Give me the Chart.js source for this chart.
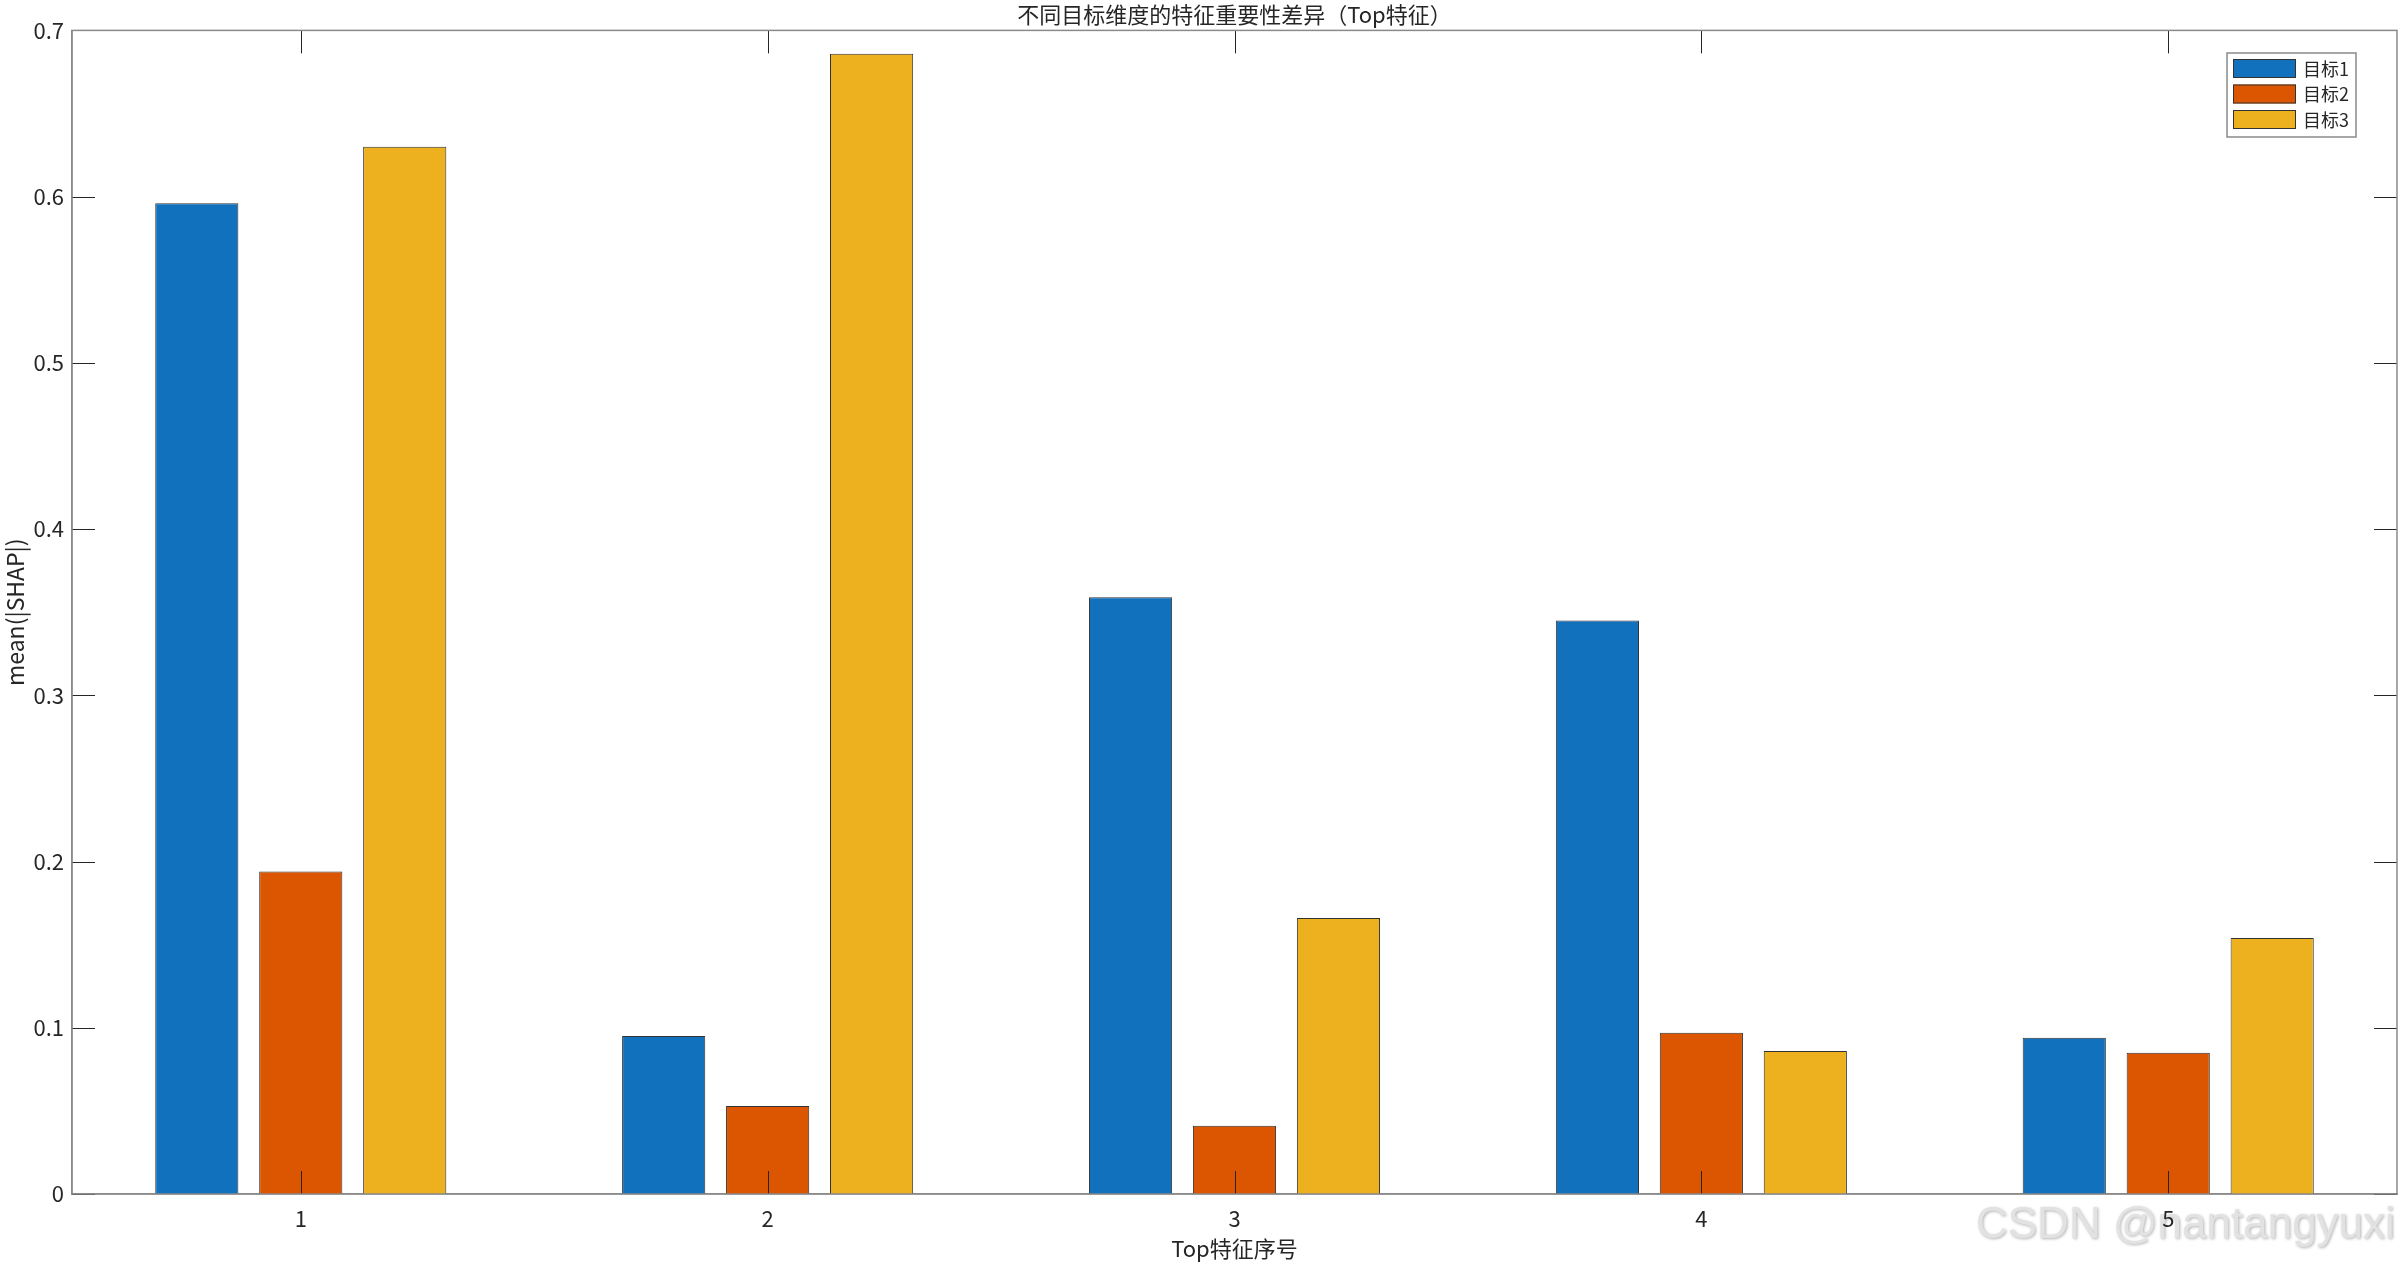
<!DOCTYPE html>
<html>
<head>
<meta charset="utf-8">
<script src="https://cdn.jsdelivr.net/npm/chart.js@4.4.1/dist/chart.umd.min.js"></script>
<style>
  html, body { margin: 0; padding: 0; background: #fff; }
  #wrap { width: 2400px; height: 1264px; }
</style>
</head>
<body>
<div id="wrap"><canvas id="shapChart" width="2400" height="1264"></canvas></div>
<script>
// data
const categories = ['1', '2', '3', '4', '5'];
const target1 = [0.596, 0.095, 0.359, 0.345, 0.094];
const target2 = [0.194, 0.053, 0.041, 0.097, 0.085];
const target3 = [0.630, 0.686, 0.166, 0.086, 0.154];
const seriesNames = ['目标1', '目标2', '目标3'];
const yTicks = [0, 0.1, 0.2, 0.3, 0.4, 0.5, 0.6, 0.7];

const FONT = '"Noto Sans CJK SC", "Noto Sans", sans-serif';
const TEXT = '#262626';
const AXIS = '#8a8a8a';

// bars sit on a numeric x axis (1..5) like MATLAB's bar()
const toPoints = vals => vals.map((v, i) => ({ x: i + 1, y: v }));

// white canvas + watermark underneath everything
const backdrop = {
  id: 'backdrop',
  beforeDraw(chart) {
    const ctx = chart.ctx;
    ctx.save();
    ctx.fillStyle = '#fff';
    ctx.fillRect(0, 0, chart.width, chart.height);
    ctx.font = '44px "Liberation Sans", Arial, sans-serif';
    ctx.textBaseline = 'alphabetic';
    ctx.shadowColor = 'rgba(0,0,0,0.3)';
    ctx.shadowBlur = 3;
    ctx.shadowOffsetX = 1;
    ctx.shadowOffsetY = 1;
    ctx.fillStyle = '#e2e2e2';
    ctx.fillText('CSDN @nantangyuxi', 1976, 1238);
    ctx.restore();
  }
};

// MATLAB style box with inward ticks on all four sides
const matlabBox = {
  id: 'matlabBox',
  afterDatasetsDraw(chart) {
    const { ctx, chartArea: a, scales } = chart;
    const len = 23;
    ctx.save();
    ctx.strokeStyle = TEXT;
    ctx.lineWidth = 1;
    ctx.beginPath();
    yTicks.forEach(v => {
      const y = Math.round(scales.y.getPixelForValue(v)) + 0.5;
      ctx.moveTo(a.left, y); ctx.lineTo(a.left + len, y);
      ctx.moveTo(a.right, y); ctx.lineTo(a.right - len, y);
    });
    categories.forEach((c, i) => {
      const x = Math.round(scales.x.getPixelForValue(i + 1)) + 0.5;
      ctx.moveTo(x, a.bottom); ctx.lineTo(x, a.bottom - len);
      ctx.moveTo(x, a.top); ctx.lineTo(x, a.top + len);
    });
    ctx.stroke();
    ctx.strokeStyle = AXIS;
    ctx.lineWidth = 1.5;
    ctx.strokeRect(a.left, a.top, a.right - a.left, a.bottom - a.top);
    ctx.restore();
  }
};

// legend box in the upper right corner of the axes
const boxLegend = {
  id: 'boxLegend',
  afterDraw(chart) {
    const ctx = chart.ctx;
    const x = 2227, y = 53, w = 129, h = 84;
    ctx.save();
    ctx.fillStyle = '#fff';
    ctx.fillRect(x, y, w, h);
    ctx.strokeStyle = AXIS;
    ctx.lineWidth = 1.5;
    ctx.strokeRect(x, y, w, h);
    ctx.font = '18px ' + FONT;
    ctx.textBaseline = 'middle';
    chart.data.datasets.forEach((ds, i) => {
      const top = 59 + i * 25.5;
      ctx.fillStyle = ds.backgroundColor;
      ctx.fillRect(2233, top, 63, 19);
      ctx.strokeStyle = '#333';
      ctx.lineWidth = 1;
      ctx.strokeRect(2233.5, top + 0.5, 62, 18);
      ctx.fillStyle = TEXT;
      ctx.fillText(ds.label, 2303, top + 10);
    });
    ctx.restore();
  }
};

new Chart(document.getElementById('shapChart'), {
  type: 'bar',
  data: {
    datasets: [
      { label: seriesNames[0], data: toPoints(target1), backgroundColor: '#1171BD' },
      { label: seriesNames[1], data: toPoints(target2), backgroundColor: '#DC5501' },
      { label: seriesNames[2], data: toPoints(target3), backgroundColor: '#EDB120' }
    ].map(d => Object.assign(d, {
      borderColor: '#333',
      borderWidth: 1,
      categoryPercentage: 0.668,
      barPercentage: 0.8
    }))
  },
  options: {
    responsive: false,
    animation: false,
    layout: { padding: { left: 0, right: 3, top: 0, bottom: 0 } },
    plugins: {
      legend: { display: false },
      tooltip: { enabled: false },
      title: {
        display: true,
        fullSize: false,
        text: '不同目标维度的特征重要性差异（Top特征）',
        color: TEXT,
        font: { family: FONT, size: 22, weight: 'normal' },
        padding: { top: 1, bottom: 3 }
      }
    },
    scales: {
      x: {
        type: 'linear',
        min: 0.51,
        max: 5.49,
        offset: false,
        grid: { display: false, drawTicks: false },
        border: { color: AXIS, width: 1.5 },
        ticks: {
          stepSize: 1,
          includeBounds: false,
          color: TEXT,
          padding: 11,
          font: { family: FONT, size: 22 },
          callback: v => categories[v - 1] ?? ''
        },
        title: {
          display: true,
          text: 'Top特征序号',
          color: TEXT,
          font: { family: FONT, size: 22 },
          padding: { top: 0, bottom: 2 }
        },
        afterFit(scale) { scale.height = 70; }
      },
      y: {
        min: 0,
        max: 0.7,
        grid: { display: false, drawTicks: false },
        border: { color: AXIS, width: 1.5 },
        ticks: { stepSize: 0.1, color: TEXT, padding: 8, font: { family: FONT, size: 22 } },
        title: {
          display: true,
          text: 'mean(|SHAP|)',
          color: TEXT,
          font: { family: FONT, size: 23 },
          padding: { top: 1, bottom: 0 }
        },
        afterFit(scale) { scale.width = 72; }
      }
    }
  },
  plugins: [backdrop, matlabBox, boxLegend]
});
</script>
</body>
</html>
